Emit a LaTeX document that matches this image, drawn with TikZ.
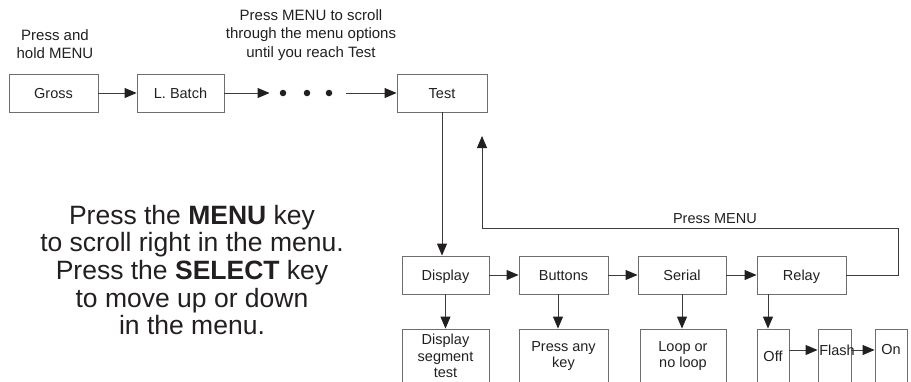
\documentclass[tikz,border=0pt]{standalone}
\usepackage{fontspec}
\setmainfont{Liberation Sans}
\usepackage{tikz}
\usetikzlibrary{arrows.meta,positioning,calc}

\definecolor{inkgray}{HTML}{231F20}
\definecolor{boxgray}{HTML}{6D6E71}

\tikzset{
  menubox/.style={draw=boxgray, line width=0.9pt, minimum height=38pt,
                  inner sep=1pt, align=center, text=inkgray,
                  text height=13pt, text depth=3pt,
                  font=\fontsize{14.5}{16.5}\selectfont},
  subbox/.style={menubox, minimum height=54pt, text height=, text depth=},
  boxtext/.style={inner sep=0pt, text=inkgray, font=\fontsize{14.5}{16.5}\selectfont},
  flowarrow/.style={draw=boxgray!55!black, line width=0.9pt,
                    -{Triangle[length=12pt,width=10pt,color=inkgray]}},
  caption/.style={align=center, text=inkgray, font=\fontsize{15}{18.5}\selectfont},
  menudot/.style={circle, fill=inkgray, inner sep=0pt, minimum size=6.5pt},
}

\begin{document}
\begin{tikzpicture}[x=1pt,y=-1pt]
  \useasboundingbox (0,0) rectangle (911,381);
  \clip (0,0) rectangle (911,381);

  % top row
  \node[caption] (hold) at (55,44) {Press and\\hold MENU};
  \node[caption] (scroll) at (311,35) {Press MENU to scroll\\through the menu options\\until you reach Test};
  \node[menubox, minimum width=89pt] (gross) at (53.5,93) {Gross};
  \node[menubox, minimum width=87pt] (lbatch) at (180.5,93) {L. Batch};
  \node[menudot] (dot1) at (283,93) {};
  \node[menudot] (dot2) at (307,93) {};
  \node[menudot] (dot3) at (329,93) {};
  \node[menubox, minimum width=90pt] (test) at (442,93) {Test};

  \draw[flowarrow] (gross) -- (lbatch);
  \draw[flowarrow, shorten >=10pt] (lbatch) -- (dot1);
  \draw[flowarrow, shorten <=14pt] (dot3) -- (test);

  \node[align=center, text=inkgray, font=\fontsize{26.5}{27.6}\selectfont] (help) at (192,270)
    {Press the \textbf{MENU} key\\to scroll right in the menu.\\Press the \textbf{SELECT} key\\to move up or down\\in the menu.};

  % test menu
  \node[menubox, minimum width=87pt] (display) at (445.5,275) {Display};
  \node[menubox, minimum width=89pt] (buttons) at (563.5,275) {Buttons};
  \node[menubox, minimum width=88pt] (serial) at (682,275) {Serial};
  \node[menubox, minimum width=89pt] (relay) at (801.5,275) {Relay};

  \draw[flowarrow] (test.south) -- (test.south |- display.north);
  \draw[flowarrow] (display) -- (buttons);
  \draw[flowarrow] (buttons) -- (serial);
  \draw[flowarrow] (serial) -- (relay);

  \coordinate (retcorner) at (898,228);
  \coordinate (rettip) at (482,136);
  \draw[flowarrow] (relay.east) -| (retcorner)
    -- node[above, boxtext, inner sep=4pt, pos=0.44] (pressmenu) {Press MENU} (retcorner -| rettip)
    -- (rettip);

  % sub items
  \node[subbox, minimum width=87pt] (segtest) at (445.5,356) {Display\\segment\\test};
  \node[subbox, minimum width=89pt] (anykey) at (563.5,356) {Press any\\key};
  \node[subbox, minimum width=86pt] (loop) at (683,356) {Loop or\\no loop};
  \node[subbox, minimum width=32pt] (off) at (773,356) {Off};
  \node[subbox, minimum width=33pt] (flash) at (834.5,356) {};
  \node[subbox, minimum width=32pt] (on) at (891,356) {};
  \node[boxtext, anchor=west] (flashtext) at ([xshift=1.5pt,yshift=6pt]flash.west) {Flash};
  \node[boxtext] (ontext) at ([yshift=6pt]on.center) {On};

  \draw[flowarrow] (display) -- (segtest);
  \draw[flowarrow] ([xshift=-5.5pt]buttons.south) -- ([xshift=-5.5pt]anykey.north);
  \draw[flowarrow] (serial.south) -- (serial.south |- loop.north);
  \draw[flowarrow] ([xshift=-5pt]off.north |- relay.south) -- ([xshift=-5pt]off.north);
  \draw[flowarrow] ([yshift=6pt]off.east) -- ([yshift=6pt]flash.west);
  \draw[flowarrow] ([yshift=6pt]flash.east) -- ([yshift=6pt]on.west);
\end{tikzpicture}
\end{document}
